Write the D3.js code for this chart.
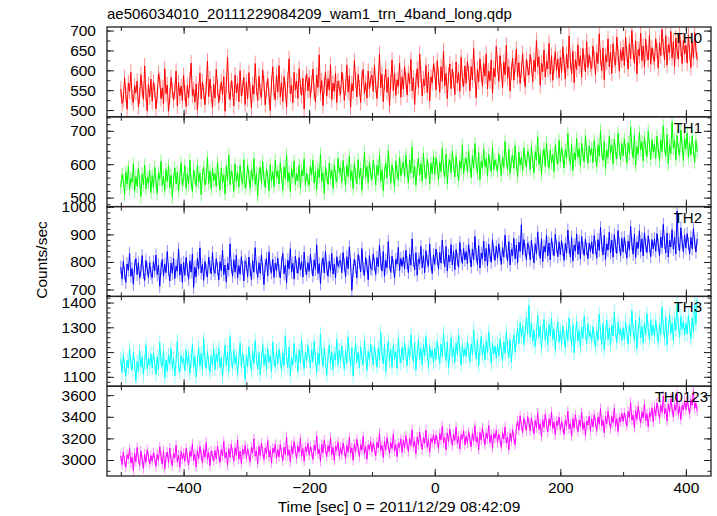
<!DOCTYPE html>
<html><head><meta charset="utf-8">
<script src="https://cdn.jsdelivr.net/npm/d3@7"></script>
<style>body{margin:0;background:#fff}svg{display:block}</style>
</head><body>
<svg id="c" width="717" height="516"></svg>
<script>
const title = "ae506034010_20111229084209_wam1_trn_4band_long.qdp";
const xLabel = "Time [sec] 0 = 2011/12/29 08:42:09";
const yLabel = "Counts/sec";
const bandNames = ["TH0", "TH1", "TH2", "TH3", "TH0123"];
const bandColors = ["#ff0000", "#00ff00", "#0000ff", "#00ffff", "#ff00ff"];
const timeStart = -500, timeStep = 2;
const xMinorTicks = [-500, -400, -300, -200, -100, 0, 100, 200, 300, 400];
const xMajorTicks = [-400, -200, 0, 200, 400];
const yDomains = [[483, 709], [473, 742], [675, 1001], [1062, 1425], [2852, 3683]];
const yMajorStep = [50, 100, 100, 100, 200];
const yMinorStep = [25, 20, 20, 20, 100];
const errHalf = [20, 20, 24, 29, 47];

const th0 = [
553,517,526,581,539,502,568,547,595,531,519,560,544,573,508,536,589,552,527,611,541,498,565,533,578,
522,570,549,503,538,591,577,529,556,515,604,541,563,497,534,582,550,525,547,598,511,569,536,560,524,
587,543,509,562,531,575,618,537,552,520,566,500,549,593,528,571,545,513,559,623,534,578,541,506,565,
530,602,557,519,545,571,538,584,497,562,633,548,526,574,553,510,588,543,567,521,599,536,555,582,514,
571,528,594,549,506,563,540,617,557,524,585,546,532,601,568,513,552,579,537,499,566,609,544,527,588,
545,612,533,569,521,584,553,507,576,629,541,562,518,595,550,573,529,604,558,537,580,503,566,591,548,
582,531,567,603,546,520,588,557,639,542,574,511,561,596,535,579,550,614,526,568,547,592,519,573,555,
539,596,571,524,558,613,545,586,507,567,548,624,575,533,590,556,519,581,602,541,569,530,598,553,579,
588,547,612,563,529,574,641,556,590,521,569,603,544,582,511,571,626,549,593,537,576,560,618,532,584,
552,609,575,538,593,566,627,548,581,514,572,604,557,641,589,535,578,561,612,544,596,523,583,569,616,
598,551,624,583,545,609,572,648,561,592,529,587,616,554,603,577,539,621,568,595,547,633,580,558,611,
567,622,594,548,609,576,655,588,531,603,571,629,592,560,617,585,641,553,598,574,626,542,605,583,660,
614,572,637,598,556,621,589,663,580,609,548,596,631,575,612,653,584,619,567,601,642,590,559,627,605,
588,640,612,571,626,597,675,609,634,562,618,596,651,583,622,604,668,590,637,575,613,647,599,628,581,
633,594,659,617,578,641,605,686,622,591,648,569,627,602,664,611,637,583,655,620,596,672,607,639,615,
604,661,629,588,645,617,692,632,599,656,576,638,621,679,609,646,592,667,627,613,684,640,598,653,625,
658,612,683,641,603,667,629,700,646,618,674,591,652,637,693,624,661,608,679,643,626,688,615,657,634,
622,679,651,605,668,637,703,659,626,687,613,664,645,698,631,672,609,681,650,628,694,656,617,675,641,
663,618,689,644,607,672,631,695,652,626];

const th1 = [
531,569,552,508,576,540,593,524,557,546,601,519,563,534,588,549,503,571,538,597,526,560,543,582,515,
566,529,591,547,512,574,555,609,536,563,521,584,548,596,530,567,501,552,589,541,577,519,562,604,538,
553,596,527,571,540,612,549,518,583,561,534,598,545,574,508,566,591,537,559,620,542,579,526,588,551,
572,534,606,557,523,589,545,568,511,593,551,627,538,580,562,519,601,548,575,531,596,557,542,614,529,
546,598,565,527,583,552,617,539,574,505,569,591,543,608,557,530,586,562,521,599,548,577,533,612,561,
580,541,603,566,522,592,557,628,547,575,518,586,561,609,539,571,550,597,528,583,565,616,536,572,551,
537,595,568,612,544,579,523,586,560,631,549,574,512,593,566,540,604,556,582,527,599,563,548,618,575,
589,546,611,572,534,597,563,625,551,580,527,603,568,542,614,558,588,522,576,636,561,593,545,607,570,
554,612,579,538,596,567,628,549,583,521,575,604,559,641,586,543,598,568,532,610,577,552,621,565,590,
606,563,627,581,545,612,574,652,559,594,537,586,618,568,601,549,633,579,556,615,588,541,603,572,624,
569,620,591,553,607,578,648,586,561,630,542,597,613,574,639,598,562,624,581,550,609,587,657,571,602,
618,576,641,597,560,625,588,662,603,571,634,553,609,587,646,592,617,565,630,599,578,652,584,613,596,
579,631,604,566,622,591,668,612,583,645,572,608,627,588,655,601,563,636,597,620,581,649,610,592,639,
626,584,653,607,574,638,612,681,599,630,568,621,646,593,664,615,587,642,603,629,577,658,619,601,672,
608,651,624,589,643,617,692,628,598,659,581,634,612,677,621,646,594,663,630,607,685,637,603,655,626,
647,605,671,629,594,658,624,701,636,611,668,586,643,620,684,632,657,601,675,638,616,693,645,613,662,
625,676,641,603,664,632,712,649,618,687,596,653,630,695,642,667,609,681,648,622,699,656,614,673,637,
660,617,684,646,609,673,638,715,652,624,689,601,657,632,727,648,671,614,686,643,628,702,655,611,678,
646,693,619,664,628,685,641,606,672,637];

const th2 = [
781,738,802,759,726,793,770,831,748,776,719,785,812,754,797,741,768,823,762,733,806,775,744,798,757,
743,801,767,825,754,789,712,776,809,748,792,761,838,773,731,796,759,814,740,785,767,847,752,793,726,
798,752,816,771,737,804,763,829,708,781,746,812,775,851,760,791,733,802,769,745,818,782,757,834,771,
759,812,776,735,801,768,843,754,789,727,795,771,866,783,748,808,763,824,741,787,756,819,779,731,804,
791,747,818,772,736,805,763,852,781,744,797,759,826,774,718,788,812,750,837,779,761,809,744,796,768,
814,768,742,796,831,757,789,724,807,775,848,763,795,738,821,782,759,816,771,801,745,836,778,754,798,
766,827,781,749,808,773,862,758,794,721,786,815,760,839,777,748,803,768,831,756,792,742,819,784,799,
807,761,834,789,746,819,776,855,792,697,768,811,783,742,827,799,764,848,773,752,816,787,735,823,778,
772,829,791,754,816,783,861,797,767,838,748,806,779,874,795,762,821,786,741,809,792,853,769,813,784,
818,774,843,797,762,829,788,884,806,771,834,752,811,795,857,779,823,761,841,802,785,866,793,758,826,
791,847,812,774,834,796,879,818,783,856,767,824,801,863,789,838,772,845,809,781,871,822,795,849,807,
838,794,863,821,782,847,808,893,826,791,859,778,832,812,876,803,849,786,864,824,799,881,833,806,857,
814,866,829,791,852,818,897,836,803,874,789,845,823,885,811,861,797,872,838,935,826,881,843,808,869,
851,808,879,835,797,866,829,908,846,813,884,801,857,836,896,822,869,807,887,848,823,901,855,819,873,
826,877,845,806,867,832,916,853,818,889,803,861,840,902,828,874,811,893,851,824,884,847,812,869,838,
873,829,896,852,814,881,842,925,861,826,897,809,866,843,908,834,879,817,899,857,831,914,862,823,886,
836,889,851,814,875,843,929,866,828,901,816,872,849,913,837,884,822,906,861,834,895,858,819,881,847,
884,839,903,861,822,891,852,936,871,833,905,818,879,855,917,846,889,829,985,866,841,924,873,836,898,
851,903,866,829,889,848,921,872,836,884];

const th3 = [
1171,1118,1189,1143,1102,1167,1135,1214,1156,1127,1196,1148,1083,1162,1120,1205,1139,1178,1110,1159,1226,1131,1174,1145,1193,
1136,1197,1152,1109,1181,1128,1238,1163,1141,1207,1096,1168,1122,1189,1151,1215,1133,1176,1104,1162,1244,1147,1119,1185,1158,
1174,1125,1208,1149,1191,1113,1165,1231,1138,1182,1099,1160,1219,1143,1196,1127,1253,1171,1134,1202,1155,1118,1186,1146,1213,
1129,1193,1157,1216,1138,1177,1101,1165,1228,1146,1199,1121,1262,1170,1133,1209,1153,1186,1112,1174,1237,1141,1195,1162,1090,
1187,1142,1221,1166,1124,1203,1154,1246,1175,1131,1198,1108,1169,1231,1148,1192,1127,1213,1160,1184,1119,1239,1171,1139,1205,
1153,1212,1168,1126,1197,1145,1266,1181,1138,1220,1102,1174,1149,1235,1162,1191,1120,1208,1157,1249,1176,1133,1199,1164,1227,
1184,1136,1211,1159,1243,1172,1118,1196,1150,1272,1188,1141,1217,1164,1106,1182,1229,1153,1201,1129,1193,1168,1251,1146,1209,
1162,1225,1179,1131,1208,1154,1261,1190,1143,1217,1104,1184,1236,1159,1198,1137,1220,1175,1149,1246,1186,1126,1203,1168,1232,
1197,1148,1226,1182,1139,1215,1167,1280,1191,1152,1233,1119,1186,1244,1163,1209,1140,1228,1174,1201,1134,1257,1185,1156,1219,
1168,1236,1190,1145,1218,1174,1270,1201,1158,1241,1126,1193,1250,1170,1215,1149,1229,1184,1262,1197,1138,1224,1178,1209,1157,
1216,1171,1245,1198,1153,1232,1183,1276,1209,1165,1241,1136,1196,1258,1178,1222,1159,1237,1190,1269,1204,1147,1228,1181,1213,
1183,1242,1205,1161,1233,1188,1289,1216,1172,1251,1145,1207,1264,1186,1228,1168,1246,1197,1282,1213,1154,1237,1192,1225,1174,
1229,1184,1254,1207,1163,1241,1195,1283,1218,1177,1251,1159,1222,1269,1200,1248,1297,1235,1319,1262,1305,1230,1286,1341,1272,
1389,1261,1318,1243,1290,1222,1276,1348,1259,1304,1214,1282,1331,1247,1296,1229,1313,1265,1337,1251,1292,1208,1274,1323,1240,
1287,1231,1305,1259,1216,1294,1248,1338,1273,1226,1311,1197,1268,1324,1245,1289,1220,1301,1256,1345,1279,1234,1316,1262,1283,
1243,1302,1257,1219,1290,1248,1354,1277,1231,1316,1209,1272,1329,1250,1298,1226,1309,1265,1362,1284,1238,1321,1270,1293,1246,
1298,1249,1323,1276,1232,1311,1263,1367,1290,1243,1329,1214,1282,1341,1257,1304,1236,1318,1271,1355,1293,1247,1331,1268,1309,
1262,1327,1281,1239,1314,1270,1381,1301,1253,1340,1228,1297,1352,1275,1319,1246,1336,1288,1395,1310,1259,1344,1293,1322,1268,
1317,1274,1349,1296,1254,1338,1283,1392,1311,1412];

const th0123 = [
3038,2957,3072,2991,2934,3049,3011,3106,2972,3025,2903,3061,2985,3117,3016,2948,3083,3002,2921,3055,2978,3094,3029,2961,3041,
2989,3068,3016,2941,3052,2997,3121,3034,2962,3085,2919,3027,3073,2975,3109,3003,2948,3061,3019,3137,2983,3046,2931,3079,3008,
3064,2987,3108,3021,2955,3079,3033,3149,2996,3052,2934,3090,3012,3127,3047,2971,3098,3025,3161,3006,3069,2948,3084,3039,2992,
3087,3011,3129,3048,2976,3096,3037,3172,3019,3071,2952,3105,3026,3143,3062,2989,3115,3044,3184,3008,3081,2967,3098,3053,3134,
3021,3103,3049,2981,3118,3064,3196,3035,3082,2966,3127,3041,3157,3073,3004,3112,3058,3179,3026,3091,2973,3109,3067,3145,3012,
3098,3029,3142,3066,2995,3119,3051,3214,3043,3094,2981,3133,3058,3171,3087,3012,3128,3072,3198,3036,3106,2989,3122,3079,3156,
3047,3124,3072,3006,3139,3083,3225,3059,3101,2988,3146,3064,3182,3097,3031,3133,3076,3206,3048,3115,2996,3128,3089,3168,3035,
3117,3049,3158,3086,3014,3135,3071,3209,3063,3112,2997,3149,3078,3191,3104,3032,3142,3093,3218,3056,3124,3006,3139,3098,3172,
3076,3153,3101,3037,3166,3112,3248,3089,3134,3022,3175,3094,3207,3128,3059,3161,3107,3239,3081,3143,3031,3156,3118,3196,3071,
3186,3109,3224,3147,3078,3201,3136,3281,3123,3172,3058,3213,3141,3259,3168,3097,3207,3155,3277,3118,3189,3071,3199,3163,3236,
3147,3229,3173,3108,3245,3186,3314,3161,3207,3093,3251,3169,3288,3202,3134,3238,3181,3306,3152,3219,3101,3232,3194,3271,3139,
3221,3154,3262,3193,3122,3247,3179,3316,3168,3214,3097,3256,3183,3298,3209,3141,3251,3196,3321,3162,3233,3109,3244,3201,3278,
3161,3238,3186,3117,3253,3194,3307,3158,3213,3096,3249,3172,3281,3203,3139,3297,3362,3276,3409,3318,3254,3387,3329,3271,3402,
3347,3268,3391,3312,3241,3366,3298,3439,3283,3336,3217,3374,3302,3423,3335,3259,3381,3317,3446,3289,3352,3234,3362,3321,3398,
3279,3356,3302,3237,3371,3314,3452,3289,3337,3221,3384,3297,3418,3331,3263,3369,3311,3441,3282,3348,3226,3361,3324,3404,3270,
3381,3307,3419,3344,3272,3398,3331,3476,3318,3366,3251,3407,3335,3452,3363,3289,3402,3347,3479,3312,3384,3264,3393,3354,3431,
3356,3437,3382,3314,3449,3393,3531,3369,3416,3299,3458,3376,3498,3409,3342,3446,3389,3519,3361,3427,3308,3441,3402,3483,3351,
3491,3412,3529,3456,3383,3508,3441,3592,3427,3476,3359,3517,3445,3567,3473,3398,3512,3459,3612,3421,3494,3374,3503,3462,3548,
3467,3549,3493,3426,3561,3508,3638,3479,3527,3451];

const seriesList = [th0, th1, th2, th3, th0123];

// ---- layout ----
const L = 107, R = 711, T = 27, B = 476;
const ph = (B - T) / seriesList.length;
const FONT = "'Liberation Sans', Arial, Helvetica, sans-serif";
const frameColor = "#222";

const svg = d3.select("#c");
svg.append("rect").attr("width", 717).attr("height", 516).attr("fill", "#fff");

const x = d3.scaleLinear().domain([-522, 440]).range([L, R]);
const fmt = d3.format("d");

svg.append("text").attr("x", L).attr("y", 19)
  .attr("font-family", FONT).attr("font-size", 15).attr("fill", "#000").text(title);

seriesList.forEach((vals, k) => {
  const top = T + k * ph, bot = top + ph;
  const y = d3.scaleLinear().domain(yDomains[k]).range([bot, top]);
  const col = bandColors[k];
  const pts = vals.map((v, i) => ({ t: timeStart + i * timeStep, v }));

  const cid = "clip" + k;
  svg.append("clipPath").attr("id", cid).append("rect")
    .attr("x", L).attr("y", top).attr("width", R - L).attr("height", ph);

  const g = svg.append("g").attr("clip-path", `url(#${cid})`);
  g.selectAll("line.err").data(pts).join("line").attr("class", "err")
    .attr("x1", d => x(d.t)).attr("x2", d => x(d.t))
    .attr("y1", d => y(d.v - errHalf[k])).attr("y2", d => y(d.v + errHalf[k]))
    .attr("stroke", col).attr("stroke-opacity", 0.45).attr("stroke-width", 1);
  g.append("path").datum(pts)
    .attr("d", d3.line().x(d => x(d.t)).y(d => y(d.v)))
    .attr("fill", "none").attr("stroke", col).attr("stroke-width", 1);

  const [d0, d1] = yDomains[k];
  const minorVals = d3.range(Math.ceil(d0 / yMinorStep[k]) * yMinorStep[k], d1 + 0.001, yMinorStep[k]);
  const majorVals = d3.range(Math.ceil(d0 / yMajorStep[k]) * yMajorStep[k], d1 + 0.001, yMajorStep[k]);

  const axes = [
    svg.append("g").attr("transform", `translate(${L},0)`).call(d3.axisLeft(y).tickValues(minorVals).tickSize(-3.5).tickFormat("")),
    svg.append("g").attr("transform", `translate(${L},0)`).call(d3.axisLeft(y).tickValues(majorVals).tickSize(-7).tickPadding(11).tickFormat(fmt)),
    svg.append("g").attr("transform", `translate(${R},0)`).call(d3.axisRight(y).tickValues(minorVals).tickSize(-3.5).tickFormat("")),
    svg.append("g").attr("transform", `translate(${R},0)`).call(d3.axisRight(y).tickValues(majorVals).tickSize(-7).tickFormat("")),
    svg.append("g").attr("transform", `translate(0,${top})`).call(d3.axisTop(x).tickValues(xMinorTicks).tickSize(-4).tickFormat("")),
    svg.append("g").attr("transform", `translate(0,${top})`).call(d3.axisTop(x).tickValues(xMajorTicks).tickSize(-7).tickFormat("")),
    svg.append("g").attr("transform", `translate(0,${bot})`).call(d3.axisBottom(x).tickValues(xMinorTicks).tickSize(-4).tickFormat("")),
    svg.append("g").attr("transform", `translate(0,${bot})`).call(d3.axisBottom(x).tickValues(xMajorTicks).tickSize(-7).tickPadding(6)
      .tickFormat(k === seriesList.length - 1 ? fmt : ""))
  ];
  axes.forEach(a => {
    a.select(".domain").remove();
    a.selectAll("line").attr("stroke", frameColor);
    a.selectAll("text").attr("font-family", FONT).attr("font-size", 15.5).attr("fill", "#000");
  });

  svg.append("rect").attr("x", L).attr("y", top).attr("width", R - L).attr("height", ph)
    .attr("fill", "none").attr("stroke", frameColor).attr("stroke-width", 1.3);

  svg.append("text").attr("x", k === seriesList.length - 1 ? 708 : 702).attr("y", top + 16)
    .attr("text-anchor", "end").attr("font-family", FONT).attr("font-size", 15)
    .attr("fill", "#000").text(bandNames[k]);
});

svg.append("text").attr("x", 399).attr("y", 512).attr("text-anchor", "middle")
  .attr("font-family", FONT).attr("font-size", 15.5).attr("fill", "#000").text(xLabel);
svg.append("text").attr("transform", "translate(47,260) rotate(-90)").attr("text-anchor", "middle")
  .attr("font-family", FONT).attr("font-size", 15.5).attr("fill", "#000").text(yLabel);
</script>
</body></html>
